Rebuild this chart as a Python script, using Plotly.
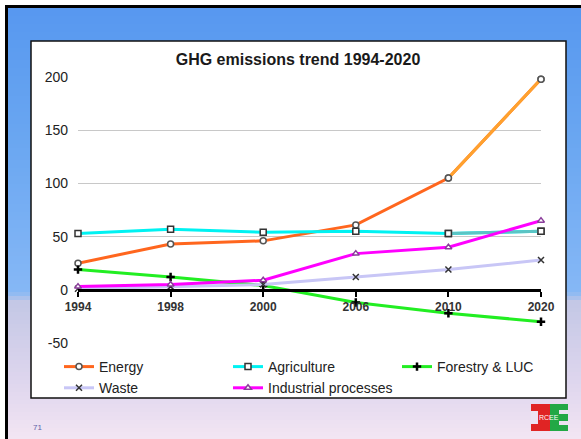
import plotly.graph_objects as go

# ---- data ----
years = ["1994", "1998", "2000", "2006", "2010", "2020"]
energy = [25, 43, 46, 61, 105, 198]
agriculture = [53, 57, 54, 55, 53, 55]
forestry = [19, 12, 4, -12, -22, -30]
waste = [1, 3, 5, 12, 19, 28]
industrial = [3, 5, 9, 34, 40, 65]
y_ticks = [-50, 0, 50, 100, 150, 200]
y_tick_labels = ["-50", "0", "50", "100", "150", "200"]

W, H = 581, 439
L, R, T, B = 78, 541, 77, 343


def px_x(p):
    return (p - L) / (R - L)


def px_y(p):
    return (B - p) / (B - T)


FONT = "Liberation Sans, Arial, sans-serif"

fig = go.Figure()

series = [
    ("Energy", energy, "#FF661E", "circle", "white", "#555555", 1.5, "#FFA22E"),
    ("Agriculture", agriculture, "#00F2F2", "square", "white", "#333333", 1.5, "#5CC4C4"),
    ("Forestry & LUC", forestry, "#22EE22", "cross-thin", "black", "black", 2.5, None),
    ("Waste", waste, "#C8C6F6", "x-thin", "#333333", "#333333", 1.5, None),
    ("Industrial processes", industrial, "#FF00FF", "triangle-up", "white", "#8A3C9A", 1.5, None),
]

for name, vals, col, sym, fill, mline, mw, last_col in series:
    fig.add_trace(go.Scatter(
        x=years, y=vals, name=name, mode="lines+markers",
        line=dict(color=col, width=3),
        marker=dict(symbol=sym, size=6, color=fill, line=dict(color=mline, width=mw)),
        cliponaxis=False,
    ))
    if last_col:
        fig.add_trace(go.Scatter(
            x=years[4:], y=vals[4:], mode="lines+markers", showlegend=False,
            line=dict(color=last_col, width=3),
            marker=dict(symbol=sym, size=6, color=fill, line=dict(color=mline, width=mw)),
            cliponaxis=False, hoverinfo="skip",
        ))


def rect(x0, x1, y0, y1, fill, layer="below", line=None):
    return dict(type="rect", xref="paper", yref="paper",
                x0=px_x(x0), x1=px_x(x1), y0=px_y(y1), y1=px_y(y0),
                fillcolor=fill, line=line or dict(width=0), layer=layer)


shapes = []
# black frame
shapes.append(rect(5, W + 5, 5, H + 5, "black"))
# gradient background (pixel y, rgb)
stops = [
    (8, (88, 152, 240)),
    (40, (92, 156, 240)),
    (150, (108, 168, 242)),
    (292, (134, 184, 246)),
    (302, (196, 200, 230)),
    (380, (222, 214, 238)),
    (H + 2, (244, 230, 244)),
]


def color_at(yp):
    for (ya, ca), (yb, cb) in zip(stops[:-1], stops[1:]):
        if ya <= yp <= yb:
            u = (yp - ya) / (yb - ya)
            return tuple(int(ca[k] + (cb[k] - ca[k]) * u) for k in range(3))
    return stops[-1][1]


step = 4
yp = 8
while yp < H + 2:
    c = color_at(yp + step / 2)
    shapes.append(rect(8, W + 5, yp, yp + step + 0.5, "rgb(%d,%d,%d)" % c))
    yp += step
# white chart box
shapes.append(rect(31, 566, 41, 398, "white", line=dict(color="#111111", width=1.5)))
# logo approximation
shapes.append(rect(531, 550, 404, 431, "#E02424", layer="above"))
shapes.append(rect(531, 538, 411, 424, "rgb(236,226,242)", layer="above"))
shapes.append(rect(550, 568, 404, 431, "#22A845", layer="above"))
shapes.append(rect(559, 568, 410, 414, "rgb(236,226,242)", layer="above"))
shapes.append(rect(559, 568, 421, 425, "rgb(236,226,242)", layer="above"))

annotations = [
    dict(text="71", x=px_x(31), y=px_y(427), xref="paper", yref="paper",
         showarrow=False, xanchor="left", yanchor="middle",
         font=dict(family=FONT, size=8, color="#6060A8")),
    dict(text="RCEE", x=px_x(549), y=px_y(417.5), xref="paper", yref="paper",
         showarrow=False, xanchor="center", yanchor="middle",
         font=dict(family=FONT, size=7, color="white")),
]

fig.update_layout(
    width=W, height=H,
    margin=dict(l=L, r=W - R, t=T, b=H - B, pad=0),
    paper_bgcolor="white",
    plot_bgcolor="rgba(0,0,0,0)",
    shapes=shapes,
    annotations=annotations,
    title=dict(text="GHG emissions trend 1994-2020", x=298 / W, xref="container",
               y=1 - 59 / H, yref="container", xanchor="center", yanchor="middle",
               font=dict(family=FONT, size=16, color="#1a1a1a", weight="bold")),
    showlegend=True,
    legend=dict(orientation="h", x=px_x(59), y=px_y(351), xanchor="left", yanchor="top",
                entrywidth=124, entrywidthmode="pixels", itemwidth=30,
                bgcolor="rgba(0,0,0,0)", font=dict(family=FONT, size=14, color="#222222"),
                traceorder="normal"),
    xaxis=dict(type="category", range=[0, 5], anchor="free", position=0.2,
               showline=True, linecolor="black", linewidth=3,
               ticks="outside", ticklen=5, tickwidth=2, tickcolor="black",
               showgrid=False, zeroline=False,
               tickfont=dict(family=FONT, size=12, color="#333333", weight="bold")),
    yaxis=dict(range=[-50, 200], tickmode="array", tickvals=y_ticks, ticktext=y_tick_labels,
               showgrid=True, gridcolor="#C8C8C8",
               gridwidth=1, zeroline=False, showline=False, ticks="",
               ticklabelstandoff=9,
               tickfont=dict(family=FONT, size=14, color="#222222")),
)

fig.write_html("out.html", config={"displayModeBar": False},
               post_script="document.body.style.margin='0px';"
                           "document.body.style.overflow='hidden';")
